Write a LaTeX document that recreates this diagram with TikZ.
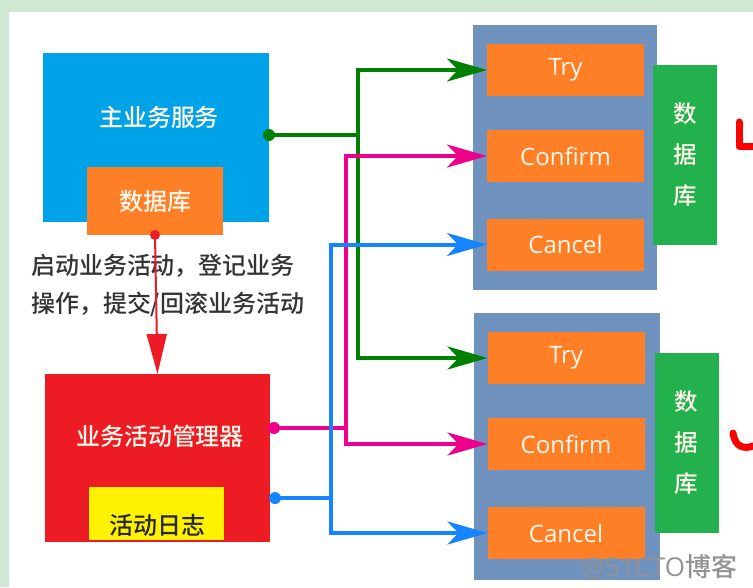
\documentclass[tikz,border=0pt]{standalone}
\usepackage{fontspec}
\setmainfont{Noto Sans CJK SC}[UprightFont=* Medium]
\newfontfamily\latinfont{Open Sans}
\usetikzlibrary{arrows.meta}
\definecolor{framegreen}{RGB}{206,232,210}
\definecolor{svcblue}{RGB}{0,162,232}
\definecolor{boxorange}{RGB}{255,127,39}
\definecolor{mgrred}{RGB}{237,28,36}
\definecolor{logyellow}{RGB}{255,242,0}
\definecolor{grpblue}{RGB}{112,146,190}
\definecolor{dbgreen}{RGB}{34,177,76}
\definecolor{arrgreen}{RGB}{0,128,0}
\definecolor{arrpink}{RGB}{236,0,140}
\definecolor{arrblue}{RGB}{20,133,255}
\definecolor{txtpale}{RGB}{255,248,235}

\begin{document}
\begin{tikzpicture}[
  x=1pt, y=-1pt,
  plain/.style={inner sep=0pt, outer sep=0pt},
  zh/.style={plain, font=\fontsize{24}{28}\selectfont},
  tcc/.style={
    plain, fill=boxorange, minimum width=157pt, minimum height=52pt,
    text=txtpale, font=\latinfont\fontsize{24}{28}\selectfont
  },
  dbcol/.style={
    plain, fill=dbgreen, minimum width=64pt, minimum height=180pt,
    align=center, text=txtpale, font=\fontsize{23.5}{41}\selectfont
  },
  flow/.style={line width=4pt, -{Stealth[length=40pt,width=23pt,inset=11pt]}},
  dot/.style={circle, fill, inner sep=0pt, minimum size=12pt},
]
\useasboundingbox (0,0) rectangle (753,587);

%% ---- screenshot frame ----
\fill[framegreen] (0,0) rectangle (753,587);
\fill[white] (9,12) rectangle (753,587);

%% ---- main service ----
\node[plain, fill=svcblue, minimum width=226pt, minimum height=169pt] (svc) at (156,137.5) {};
\node[zh, text=txtpale] (svctxt) at (159,117) {主业务服务};
\node[zh, fill=boxorange, minimum width=136pt, minimum height=68pt, text=txtpale] (db1) at (155,201) {数据库};

%% ---- activity manager ----
\node[plain, fill=mgrred, minimum width=225pt, minimum height=168pt] (mgr) at (157.5,458) {};
\node[zh, text=txtpale] (mgrtxt) at (160,436) {业务活动管理器};
\node[plain, fill=logyellow, minimum width=135pt, minimum height=53pt] (log) at (156.5,513.5) {};
\node[zh, text=black!85] (logtxt) at (157,525) {活动日志};

%% ---- note and call arrow ----
\node[zh, anchor=west, align=left, text=black!80, font=\fontsize{24}{38}\selectfont] (note) at (31,286)
  {启动业务活动，登记业务\\操作，提交/回滚业务活动};
\draw[mgrred, line width=2pt, -{Triangle[length=40pt,width=20pt]}] (db1.south) -- (mgr.north);
\node[dot, mgrred, minimum size=10pt] (rdot) at (db1.south) {};

%% ---- participant 1 ----
\node[plain, fill=grpblue, minimum width=184pt, minimum height=265pt] (grp1) at (565,157.5) {};
\node[tcc] (try1)  at (565.5,70)    {Try};
\node[tcc] (conf1) at (565.5,156)   {Confirm};
\node[tcc] (canc1) at (565.5,244.5) {Cancel};
\node[dbcol] (db2) at (685,155) {数\\据\\库};

%% ---- participant 2 ----
\node[plain, fill=grpblue, minimum width=186pt, minimum height=267pt] (grp2) at (567,446.5) {};
\node[tcc] (try2)  at (566,358) {Try};
\node[tcc] (conf2) at (566,444) {Confirm};
\node[tcc] (canc2) at (566,533) {Cancel};
\node[dbcol] (db3) at (686.5,443) {数\\据\\库};

%% ---- junctions ----
\coordinate (gdot) at (269,135);
\coordinate (gj)   at (358,135);
\coordinate (pdot) at (274,428);
\coordinate (pj)   at (346,428);
\coordinate (bdot) at (275,498);
\coordinate (bj)   at (331,498);

%% ---- try / confirm / cancel calls ----
\draw[flow, arrgreen] (gdot) -- (gj) |- (try1.west);
\draw[flow, arrgreen] (gj) |- (try2.west);
\draw[flow, arrpink] (pdot) -- (pj) |- (conf1.west);
\draw[flow, arrpink] (pj) |- (conf2.west);
\draw[flow, arrblue] (bdot) -- (bj) |- (canc1.west);
\draw[flow, arrblue] (bj) |- (canc2.west);
\node[dot, arrgreen] (gd) at (gdot) {};
\node[dot, arrpink]  (pd) at (pdot) {};
\node[dot, arrblue]  (bd) at (bdot) {};

%% ---- pen marks ----
\draw[red, line width=7pt, line cap=round, line join=round] (739,122) -- (739,146) -- (753,146);
\draw[red, line width=7pt, line cap=round] (733,433) .. controls (735,448) and (745,449) .. (753,446);

%% ---- watermark ----
\node[plain, anchor=east, text=gray!85, font=\fontsize{26}{28}\selectfont] (wm) at (737,567)
  {{\latinfont @51CTO}博客};

\end{tikzpicture}
\end{document}
